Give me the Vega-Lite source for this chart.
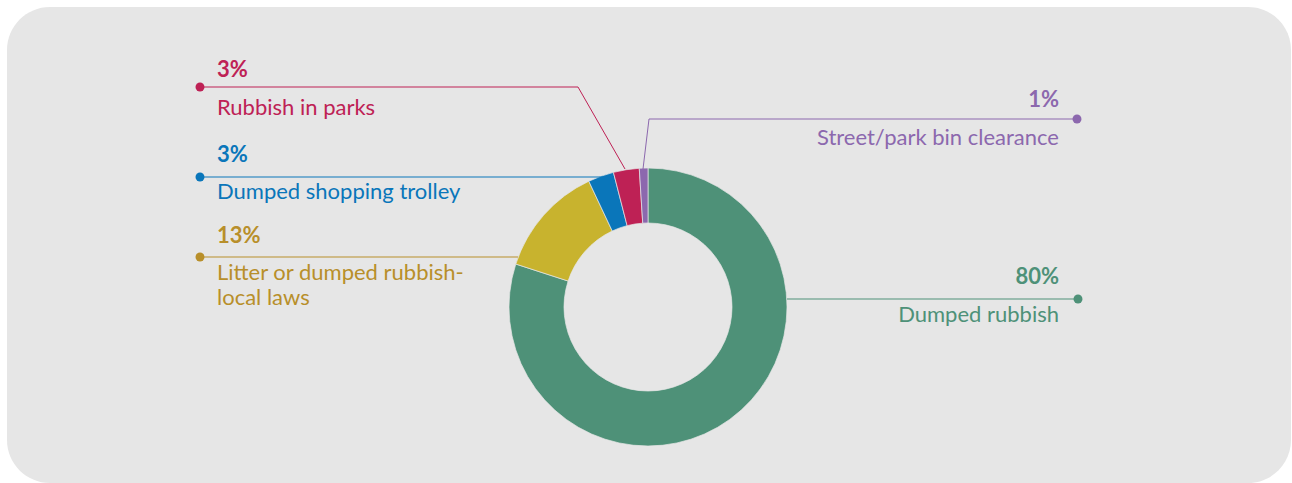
{
  "$schema": "https://vega.github.io/schema/vega-lite/v6.json",
  "width": 1284,
  "height": 476,
  "autosize": {"type": "none"},
  "padding": {"left": 7, "top": 7, "right": 1, "bottom": 0},
  "background": "#ffffff",
  "config": {"view": {"fill": "#e6e6e6", "stroke": null, "cornerRadius": 43}},
  "datasets": {
    "slices": [
      {"category": "Dumped rubbish", "value": 80, "order": 1},
      {"category": "Litter or dumped rubbish-local laws", "value": 13, "order": 2},
      {"category": "Dumped shopping trolley", "value": 3, "order": 3},
      {"category": "Rubbish in parks", "value": 3, "order": 4},
      {"category": "Street/park bin clearance", "value": 1, "order": 5}
    ],
    "leaders": [
      {"category": "Dumped rubbish", "o": 1, "x": 787, "y": 299},
      {"category": "Dumped rubbish", "o": 2, "x": 1078, "y": 299},
      {"category": "Street/park bin clearance", "o": 1, "x": 643, "y": 169},
      {"category": "Street/park bin clearance", "o": 2, "x": 649, "y": 119},
      {"category": "Street/park bin clearance", "o": 3, "x": 1077, "y": 119},
      {"category": "Rubbish in parks", "o": 1, "x": 625, "y": 169},
      {"category": "Rubbish in parks", "o": 2, "x": 578, "y": 87},
      {"category": "Rubbish in parks", "o": 3, "x": 200, "y": 87},
      {"category": "Dumped shopping trolley", "o": 1, "x": 603, "y": 177},
      {"category": "Dumped shopping trolley", "o": 2, "x": 200, "y": 177},
      {"category": "Litter or dumped rubbish-local laws", "o": 1, "x": 518, "y": 257},
      {"category": "Litter or dumped rubbish-local laws", "o": 2, "x": 200, "y": 257}
    ],
    "dots": [
      {"category": "Dumped rubbish", "x": 1078, "y": 299},
      {"category": "Street/park bin clearance", "x": 1077, "y": 119},
      {"category": "Rubbish in parks", "x": 200, "y": 87},
      {"category": "Dumped shopping trolley", "x": 200, "y": 177},
      {"category": "Litter or dumped rubbish-local laws", "x": 200, "y": 257}
    ],
    "labels": [
      {"category": "Rubbish in parks", "side": "left", "pct": "3%", "name": "Rubbish in parks", "x": 217, "py": 77, "ny": 115},
      {"category": "Dumped shopping trolley", "side": "left", "pct": "3%", "name": "Dumped shopping trolley", "x": 217, "py": 162, "ny": 199},
      {"category": "Litter or dumped rubbish-local laws", "side": "left", "pct": "13%", "name": "Litter or dumped rubbish-\nlocal laws", "x": 217, "py": 243, "ny": 280},
      {"category": "Street/park bin clearance", "side": "right", "pct": "1%", "name": "Street/park bin clearance", "x": 1059, "py": 107, "ny": 145},
      {"category": "Dumped rubbish", "side": "right", "pct": "80%", "name": "Dumped rubbish", "x": 1059, "py": 284, "ny": 322}
    ]
  },
  "layer": [
    {
      "data": {"name": "slices"},
      "mark": {"type": "arc", "outerRadius": 139, "innerRadius": 84, "stroke": "#e6e6e6", "strokeWidth": 0.7},
      "encoding": {
        "x": {"datum": 648, "type": "quantitative", "scale": {"domain": [7, 1291], "nice": false, "zero": false}, "axis": null},
        "y": {"datum": 307, "type": "quantitative", "scale": {"domain": [7, 483], "reverse": true, "nice": false, "zero": false}, "axis": null},
        "theta": {"field": "value", "type": "quantitative", "stack": true},
        "order": {"field": "order", "type": "quantitative"},
        "color": {
          "field": "category", "type": "nominal", "legend": null,
          "scale": {
            "domain": ["Dumped rubbish", "Litter or dumped rubbish-local laws", "Dumped shopping trolley", "Rubbish in parks", "Street/park bin clearance"],
            "range": ["#4e9178", "#c8b32e", "#0a76ba", "#be2155", "#8c68ae"]
          }
        }
      }
    },
    {
      "data": {"name": "leaders"},
      "mark": {"type": "line", "strokeWidth": 1},
      "encoding": {
        "x": {"field": "x", "type": "quantitative", "axis": null},
        "y": {"field": "y", "type": "quantitative", "axis": null},
        "order": {"field": "o", "type": "quantitative"},
        "detail": {"field": "category"},
        "color": {
          "field": "category", "type": "nominal", "legend": null,
          "scale": {
            "domain": ["Dumped rubbish", "Litter or dumped rubbish-local laws", "Dumped shopping trolley", "Rubbish in parks", "Street/park bin clearance"],
            "range": ["#4e9178", "#b88f2a", "#0a76ba", "#be2155", "#8c68ae"]
          }
        }
      }
    },
    {
      "data": {"name": "dots"},
      "mark": {"type": "point", "filled": true, "opacity": 1, "size": 80},
      "encoding": {
        "x": {"field": "x", "type": "quantitative", "axis": null},
        "y": {"field": "y", "type": "quantitative", "axis": null},
        "color": {
          "field": "category", "type": "nominal", "legend": null,
          "scale": {
            "domain": ["Dumped rubbish", "Litter or dumped rubbish-local laws", "Dumped shopping trolley", "Rubbish in parks", "Street/park bin clearance"],
            "range": ["#4e9178", "#b88f2a", "#0a76ba", "#be2155", "#8c68ae"]
          }
        }
      }
    },
    {
      "data": {"name": "labels"},
      "transform": [{"filter": "datum.side === 'left'"}],
      "mark": {"type": "text", "align": "left", "baseline": "alphabetic", "font": "Lato", "fontWeight": "bold", "fontSize": 22},
      "encoding": {
        "x": {"field": "x", "type": "quantitative", "axis": null},
        "y": {"field": "py", "type": "quantitative", "axis": null},
        "text": {"field": "pct"},
        "color": {
          "field": "category", "type": "nominal", "legend": null,
          "scale": {
            "domain": ["Dumped rubbish", "Litter or dumped rubbish-local laws", "Dumped shopping trolley", "Rubbish in parks", "Street/park bin clearance"],
            "range": ["#4e9178", "#b88f2a", "#0a76ba", "#be2155", "#8c68ae"]
          }
        }
      }
    },
    {
      "data": {"name": "labels"},
      "transform": [{"filter": "datum.side === 'right'"}],
      "mark": {"type": "text", "align": "right", "baseline": "alphabetic", "font": "Lato", "fontWeight": "bold", "fontSize": 22},
      "encoding": {
        "x": {"field": "x", "type": "quantitative", "axis": null},
        "y": {"field": "py", "type": "quantitative", "axis": null},
        "text": {"field": "pct"},
        "color": {
          "field": "category", "type": "nominal", "legend": null,
          "scale": {
            "domain": ["Dumped rubbish", "Litter or dumped rubbish-local laws", "Dumped shopping trolley", "Rubbish in parks", "Street/park bin clearance"],
            "range": ["#4e9178", "#b88f2a", "#0a76ba", "#be2155", "#8c68ae"]
          }
        }
      }
    },
    {
      "data": {"name": "labels"},
      "transform": [{"filter": "datum.side === 'left'"}],
      "mark": {"type": "text", "align": "left", "baseline": "alphabetic", "font": "Lato", "fontSize": 22, "lineBreak": "\n", "lineHeight": 25},
      "encoding": {
        "x": {"field": "x", "type": "quantitative", "axis": null},
        "y": {"field": "ny", "type": "quantitative", "axis": null},
        "text": {"field": "name"},
        "color": {
          "field": "category", "type": "nominal", "legend": null,
          "scale": {
            "domain": ["Dumped rubbish", "Litter or dumped rubbish-local laws", "Dumped shopping trolley", "Rubbish in parks", "Street/park bin clearance"],
            "range": ["#4e9178", "#b88f2a", "#0a76ba", "#be2155", "#8c68ae"]
          }
        }
      }
    },
    {
      "data": {"name": "labels"},
      "transform": [{"filter": "datum.side === 'right'"}],
      "mark": {"type": "text", "align": "right", "baseline": "alphabetic", "font": "Lato", "fontSize": 22},
      "encoding": {
        "x": {"field": "x", "type": "quantitative", "axis": null},
        "y": {"field": "ny", "type": "quantitative", "axis": null},
        "text": {"field": "name"},
        "color": {
          "field": "category", "type": "nominal", "legend": null,
          "scale": {
            "domain": ["Dumped rubbish", "Litter or dumped rubbish-local laws", "Dumped shopping trolley", "Rubbish in parks", "Street/park bin clearance"],
            "range": ["#4e9178", "#b88f2a", "#0a76ba", "#be2155", "#8c68ae"]
          }
        }
      }
    }
  ],
  "resolve": {"scale": {"color": "independent"}}
}
